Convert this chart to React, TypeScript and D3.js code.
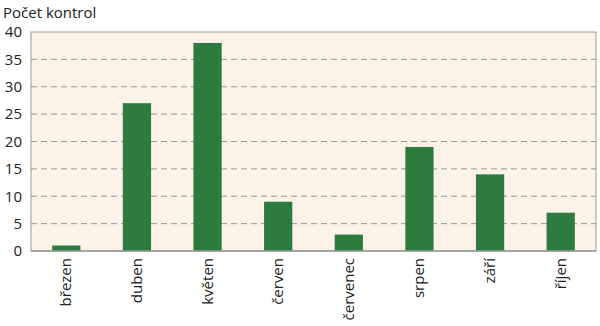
import React from "react";
import * as d3 from "d3";

const categories = ["březen", "duben", "květen", "červen", "červenec", "srpen", "září", "říjen"];
const values = [1, 27, 38, 9, 3, 19, 14, 7];
const yTicks = [0, 5, 10, 15, 20, 25, 30, 35, 40];
const yTitle = "Počet kontrol";

export default function App() {
  const W = 600, H = 326;
  const left = 31, right = 596, top = 32, bottom = 251;
  const x = d3.scaleBand<string>().domain(categories).range([left, right]).paddingInner(0.6).paddingOuter(0.3);
  const y = d3.scaleLinear().domain([0, 40]).range([bottom, top]);
  const font = "'Open Sans', 'Noto Sans', sans-serif";
  return (
    <svg width={W} height={H} style={{ position: "absolute", left: 0, top: 0, background: "#fff" }}>
      <rect x={left} y={top} width={right - left} height={bottom - top} fill="#FBF2E8" stroke="#9a9a9a" strokeWidth={1} />
      {yTicks.filter(t => t > 0 && t < 40).map(t => (
        <line key={t} x1={left} x2={right} y1={y(t)} y2={y(t)} stroke="#9a9a9a" strokeWidth={1} strokeDasharray="6,4" />
      ))}
      {categories.map((c, i) => (
        <rect key={c} x={x(c)} y={y(values[i])} width={x.bandwidth()} height={bottom - y(values[i])} fill="#2E7B3F" />
      ))}
      <line x1={left} x2={right} y1={bottom} y2={bottom} stroke="#9a9a9a" strokeWidth={1.5} />
      {yTicks.map(t => (
        <text key={t} x={22} y={y(t)} dy="0.35em" textAnchor="end" fontFamily={font} fontSize={15} fill="#222">{t}</text>
      ))}
      {categories.map(c => {
        const cx = (x(c) as number) + x.bandwidth() / 2;
        return (
          <text key={c} transform={`translate(${cx + 5},258) rotate(-90)`} textAnchor="end" fontFamily={font} fontSize={15} fill="#222">{c}</text>
        );
      })}
      <text x={3} y={18} fontFamily={font} fontSize={15} fill="#222">{yTitle}</text>
    </svg>
  );
}
